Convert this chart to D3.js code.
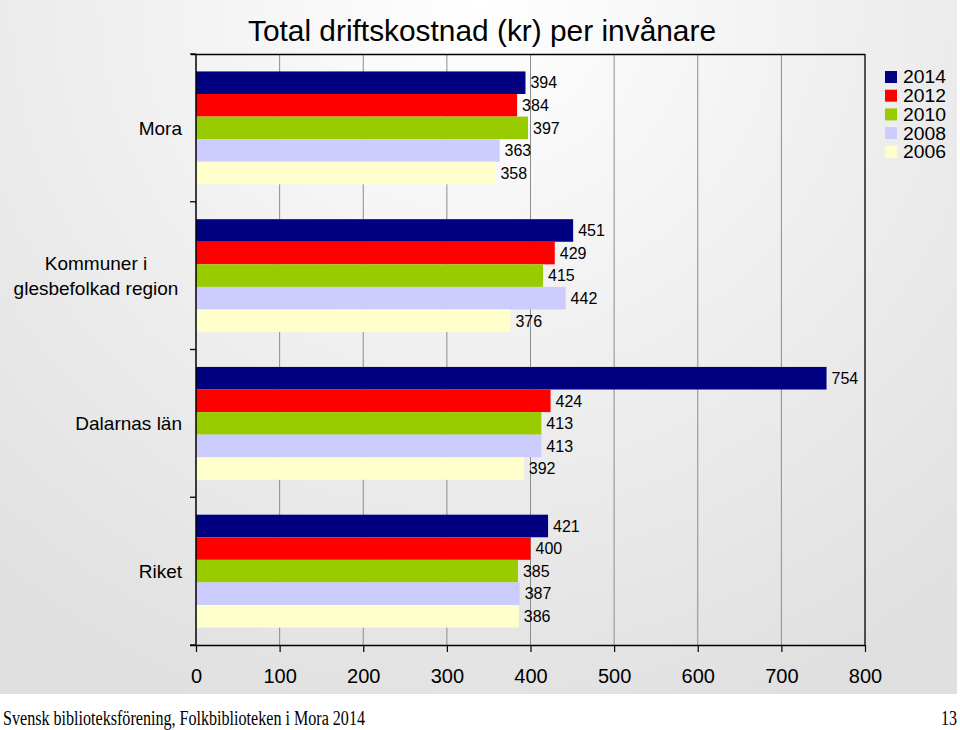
<!DOCTYPE html>
<html><head><meta charset="utf-8">
<script src="https://cdn.jsdelivr.net/npm/d3@7"></script>
<style>body{margin:0;background:#fff}svg{display:block}</style>
</head><body>
<script>
const categories = ["Mora", "Kommuner i glesbefolkad region", "Dalarnas län", "Riket"];
const categoryLines = [["Mora"], ["Kommuner i", "glesbefolkad region"], ["Dalarnas län"], ["Riket"]];
const years = ["2014", "2012", "2010", "2008", "2006"];
const v2014 = [394, 451, 754, 421];
const v2012 = [384, 429, 424, 400];
const v2010 = [397, 415, 413, 385];
const v2008 = [363, 442, 413, 387];
const v2006 = [358, 376, 392, 386];
const seriesValues = [v2014, v2012, v2010, v2008, v2006];
const colors = ["#000080", "#ff0000", "#99cc00", "#ccccff", "#ffffcc"];
const xTicks = [0, 100, 200, 300, 400, 500, 600, 700, 800];
const title = "Total driftskostnad (kr) per invånare";
const footer = "Svensk biblioteksförening, Folkbiblioteken i Mora 2014";
const pageNo = "13";

const W = 960, H = 730;
const FONT = "Liberation Sans, Arial, sans-serif";
const svg = d3.select("body").append("svg").attr("width", W).attr("height", H);
const defs = svg.append("defs");
const rg = defs.append("radialGradient").attr("id", "bg")
  .attr("gradientUnits", "userSpaceOnUse").attr("cx", 480).attr("cy", 0).attr("r", 760);
rg.append("stop").attr("offset", "0").attr("stop-color", "#ffffff");
rg.append("stop").attr("offset", "0.5").attr("stop-color", "#efefef");
rg.append("stop").attr("offset", "1").attr("stop-color", "#e0e0e0");

svg.append("rect").attr("x", 0).attr("y", 0).attr("width", 957).attr("height", 694).attr("fill", "url(#bg)");

const L = 196, R = 865, T = 54, B = 645;
const x = d3.scaleLinear().domain([0, 800]).range([L, R]);
const y0 = d3.scaleBand().domain(categories).range([T, B]).paddingInner(0.236).paddingOuter(0.118);
const y1 = d3.scaleBand().domain(years).range([0, y0.bandwidth()]);
const step = y0.step();

// grid lines
svg.append("g").selectAll("line").data(xTicks.filter(t => t > 0 && t < 800)).join("line")
  .attr("x1", d => x(d)).attr("x2", d => x(d)).attr("y1", T).attr("y2", B)
  .attr("stroke", "#8c8c8c").attr("stroke-width", 1);

// bars
const gCat = svg.append("g").selectAll("g").data(categories).join("g")
  .attr("transform", c => `translate(0,${y0(c)})`);
gCat.each(function(c, ci) {
  const g = d3.select(this);
  years.forEach((yr, si) => {
    const v = seriesValues[si][ci];
    g.append("rect").attr("x", x(0)).attr("y", y1(yr)).attr("width", x(v) - x(0))
      .attr("height", y1.bandwidth()).attr("fill", colors[si]);
    g.append("text").attr("x", x(v) + 5).attr("y", y1(yr) + y1.bandwidth() / 2)
      .attr("dy", "0.36em").attr("font-family", FONT)
      .attr("font-size", 16).attr("fill", "#000").text(v);
  });
});

// plot border (top, right) and axes
svg.append("line").attr("x1", L - 5).attr("x2", R).attr("y1", T + 0.5).attr("y2", T + 0.5).attr("stroke", "#000").attr("stroke-width", 1.3);
svg.append("line").attr("x1", R).attr("x2", R).attr("y1", T).attr("y2", B).attr("stroke", "#000").attr("stroke-width", 1.3);
svg.append("line").attr("x1", L).attr("x2", L).attr("y1", T).attr("y2", B).attr("stroke", "#000").attr("stroke-width", 1.5);

// left category boundary ticks
const bounds = categories.map(c => y0(c) - step * y0.paddingInner() / 2).concat([B]);
svg.append("g").selectAll("line").data(bounds).join("line")
  .attr("x1", L - 6).attr("x2", L).attr("y1", d => d).attr("y2", d => d)
  .attr("stroke", "#000").attr("stroke-width", 1.3);

// bottom axis
const xAxis = d3.axisBottom(x).tickValues(xTicks).tickSize(7).tickPadding(17);
const ax = svg.append("g").attr("transform", `translate(0,${B})`).call(xAxis);
ax.select(".domain").attr("d", `M${L - 6},0.5H${R}`).attr("stroke", "#000").attr("stroke-width", 1.5);
ax.selectAll(".tick line").attr("stroke", "#000").attr("stroke-width", 1.2);
ax.selectAll(".tick text").attr("font-family", FONT).attr("font-size", 20).attr("fill", "#000");

// category labels
categories.forEach((c, ci) => {
  const lines = categoryLines[ci];
  const cy = y0(c) + y0.bandwidth() / 2;
  const lh = 25;
  const t = svg.append("text").attr("font-family", FONT).attr("font-size", 19).attr("fill", "#000");
  if (lines.length === 1) {
    t.attr("x", 182).attr("y", cy).attr("dy", "0.36em").attr("text-anchor", "end").text(lines[0]);
  } else {
    lines.forEach((ln, i) => {
      t.append("tspan").attr("x", 96).attr("text-anchor", "middle")
        .attr("y", cy + (i - (lines.length - 1) / 2) * lh).attr("dy", "0.36em").text(ln);
    });
  }
});

// title
svg.append("text").attr("x", 482).attr("y", 41).attr("text-anchor", "middle")
  .attr("font-family", FONT).attr("font-size", 30)
  .attr("textLength", 468).attr("lengthAdjust", "spacingAndGlyphs").attr("fill", "#000").text(title);

// legend
const lg = svg.append("g");
years.forEach((yr, i) => {
  const cy = 77 + i * 18.7;
  lg.append("rect").attr("x", 885).attr("y", cy - 6).attr("width", 12).attr("height", 12).attr("fill", colors[i]);
  lg.append("text").attr("x", 903).attr("y", cy).attr("dy", "0.36em")
    .attr("font-family", FONT).attr("font-size", 18).attr("textLength", 43).attr("lengthAdjust", "spacingAndGlyphs")
    .attr("fill", "#000").text(yr);
});

// footer
svg.append("text").attr("x", 3).attr("y", 725).attr("font-family", "Liberation Serif, Times New Roman, serif")
  .attr("font-size", 20).attr("textLength", 362).attr("lengthAdjust", "spacingAndGlyphs").attr("fill", "#000").text(footer);
svg.append("text").attr("x", 957).attr("y", 725).attr("text-anchor", "end").attr("font-family", "Liberation Serif, Times New Roman, serif")
  .attr("font-size", 20).attr("textLength", 16).attr("lengthAdjust", "spacingAndGlyphs").attr("fill", "#000").text(pageNo);
</script>
</body></html>
